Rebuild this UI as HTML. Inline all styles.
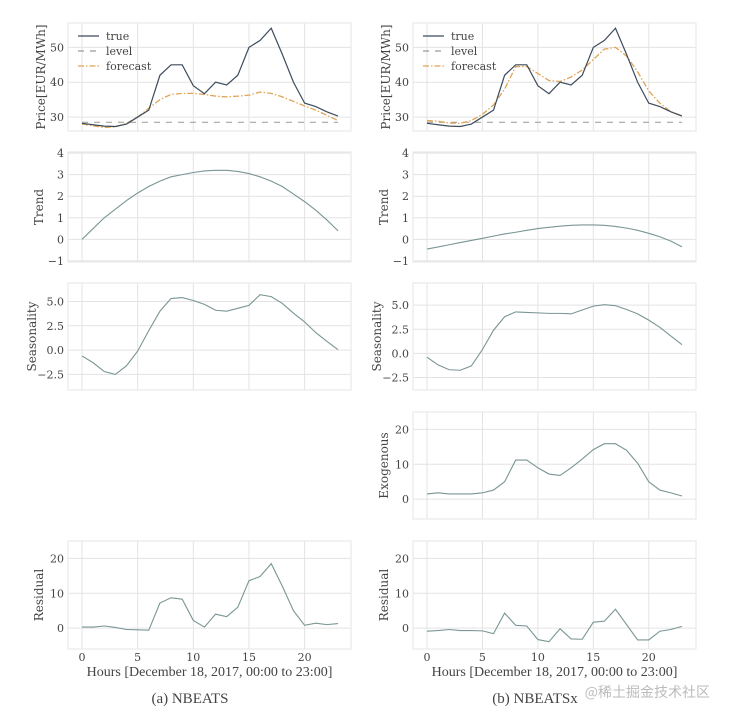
<!DOCTYPE html>
<html><head><meta charset="utf-8"><style>
body{margin:0;background:#fff;}
svg text{font-family:"DejaVu Serif","Liberation Serif",serif;fill:#444;}
</style></head><body>
<svg id="fig" width="729" height="720" viewBox="0 0 729 720" xmlns="http://www.w3.org/2000/svg"></svg>
<script>
const hours=[0,1,2,3,4,5,6,7,8,9,10,11,12,13,14,15,16,17,18,19,20,21,22,23];
const xTicks=[0,5,10,15,20];
const truePrice=[28.2,27.8,27.4,27.3,28,30,32,42,45,45,39,36.7,40,39.2,42,50,52,55.5,48,40,34,33,31.5,30.3];
const levelA=[28.5,28.5,28.5,28.5,28.5,28.5,28.5,28.5,28.5,28.5,28.5,28.5,28.5,28.5,28.5,28.5,28.5,28.5,28.5,28.5,28.5,28.5,28.5,28.5];
const levelB=levelA.slice();
const forecastA=[28,27.5,27,27.2,28.2,30,32.5,35,36.5,36.8,36.8,36.5,36,35.8,36,36.3,37.2,36.8,35.8,34.5,33.2,32,30.5,29];
const forecastB=[29,28.8,28.3,28.2,29,30.8,33.5,38,44.5,44.5,42.5,40.5,40.2,41.5,43.5,46.5,49.5,50,47.5,43,37.5,34,31.5,30.4];
const trendA=[0,0.5,1.0,1.4,1.8,2.15,2.45,2.7,2.9,3.0,3.1,3.17,3.2,3.2,3.15,3.05,2.9,2.7,2.45,2.1,1.75,1.35,0.9,0.4];
const trendB=[-0.45,-0.35,-0.25,-0.15,-0.05,0.05,0.15,0.25,0.33,0.42,0.5,0.56,0.61,0.65,0.67,0.67,0.65,0.6,0.52,0.42,0.28,0.12,-0.08,-0.35];
const seasonA=[-0.6,-1.3,-2.2,-2.5,-1.6,-0.1,2.0,4.0,5.3,5.4,5.1,4.7,4.1,4.0,4.3,4.6,5.7,5.5,4.8,3.8,2.9,1.8,0.9,0.05];
const seasonB=[-0.4,-1.2,-1.7,-1.75,-1.3,0.4,2.4,3.8,4.3,4.25,4.2,4.15,4.15,4.1,4.5,4.9,5.05,4.95,4.55,4.1,3.45,2.7,1.8,0.9];
const exogB=[1.5,1.8,1.5,1.5,1.5,1.8,2.6,5.0,11.2,11.2,9.0,7.2,6.8,9.0,11.5,14.2,15.9,15.9,14.0,10.3,5.0,2.6,1.8,0.9];
const residA=[0.3,0.3,0.6,0.2,-0.4,-0.5,-0.6,7.2,8.7,8.3,2.2,0.3,4.0,3.3,6.0,13.6,14.8,18.5,12,5,0.8,1.4,1.0,1.3];
const residB=[-0.9,-0.7,-0.4,-0.7,-0.7,-0.8,-1.6,4.3,0.8,0.6,-3.3,-3.9,-0.2,-3.1,-3.2,1.7,2.0,5.4,1.0,-3.4,-3.4,-0.9,-0.4,0.5];
const priceTicks=["30","40","50"], trendTicks=["−1","0","1","2","3","4"], seasonTicks=["−2.5","0.0","2.5","5.0"], exogTicks=["0","10","20"], residTicks=["0","10","20"];

const NS="http://www.w3.org/2000/svg";
const svg=document.getElementById('fig');
function el(tag,attrs,parent){const e=document.createElementNS(NS,tag);for(const k in attrs)e.setAttribute(k,attrs[k]);(parent||svg).appendChild(e);return e;}
const cols={a:{l:68,r:351,x0:82,x23:338,lab:45},b:{l:413,r:696,x0:427,x23:682,lab:390}};
function panel(name,col,top,bot,ymin,ymax,tickVals,tickLabels,ylabel,series,showX,labOff){
  const c=cols[col];
  const lab=c.lab-(labOff||0);
  const g=el('g',{});
  
  
  const xs=h=>c.x0+(c.x23-c.x0)*h/23;
  const ys=v=>bot-(v-ymin)/(ymax-ymin)*(bot-top);
  xTicks.forEach(t=>{el('line',{x1:xs(t),x2:xs(t),y1:top,y2:bot,stroke:'#e3e3e3','stroke-width':1},g);});
  tickVals.forEach((t,i)=>{
    el('line',{x1:c.l,x2:c.r,y1:ys(t),y2:ys(t),stroke:'#e3e3e3','stroke-width':1},g);
    const tx=el('text',{x:c.l-4,y:ys(t)+4,'text-anchor':'end','font-size':11},g);tx.textContent=tickLabels[i];
    
    
  });
  el('rect',{x:c.l,y:top,width:c.r-c.l,height:bot-top,fill:'none',stroke:'#e6e6e6'},g);
  const yl=el('text',{x:lab,y:(top+bot)/2,'text-anchor':'middle','font-size':12,transform:`rotate(-90 ${lab} ${(top+bot)/2})`},g);
  yl.textContent=ylabel;
  
  
  series.forEach(s=>{
    const p=el('polyline',{points:hours.map((h,i)=>xs(h)+','+ys(s.d[i])).join(' '),fill:'none',stroke:s.c,'stroke-width':s.w||1.1,'stroke-dasharray':s.dash||'none'},g);
    
    
  });
  if(showX){
    xTicks.forEach(t=>{const tx=el('text',{x:xs(t),y:bot+12,'text-anchor':'middle','font-size':11},g);tx.textContent=t;
      
      });
    const xl=el('text',{x:(c.l+c.r)/2,y:bot+27,'text-anchor':'middle','font-size':14,style:'font-family:"Liberation Serif",serif'},g);
    xl.textContent='Hours [December 18, 2017, 00:00 to 23:00]';
    
    
  }
}
const comp='#7a9595';
['a','b'].forEach(col=>{
  const A=col==='a';
  panel('price-'+col,col,23,131,26,57,[30,40,50],priceTicks,'Price[EUR/MWh]',[
    {n:'level-line',d:A?levelA:levelB,c:'#999',dash:'6 6',w:1},
    {n:'forecast-line',d:A?forecastA:forecastB,c:'#e0a455',dash:'6 2 1.5 2',w:1.3},
    {n:'true-line',d:truePrice,c:'#3d4c5c',w:1.2}],false,0);
  panel('trend-'+col,col,152,262,-1.05,4.05,[-1,0,1,2,3,4],trendTicks,'Trend',[{n:'trend-line',d:A?trendA:trendB,c:comp}],false,2);
  panel('seasonality-'+col,col,283,390,A?-4.1:-3.8,A?6.9:7.3,[-2.5,0,2.5,5],seasonTicks,'Seasonality',[{n:'seasonality-line',d:A?seasonA:seasonB,c:comp}],false,9);
  panel('residual-'+col,col,541,649,-6,25,[0,10,20],residTicks,'Residual',[{n:'residual-line',d:A?residA:residB,c:comp}],true,2);
});
panel('exogenous-b','b',412,519,-5.7,25,[0,10,20],exogTicks,'Exogenous',[{n:'exogenous-line',d:exogB,c:comp}],false,2);

['a','b'].forEach(col=>{
  const c=cols[col];const x=c.l+10;
  const g=el('g',{});
  
  
  const items=[['true','#3d4c5c','none'],['level','#999','6 6'],['forecast','#e0a455','6 2 1.5 2']];
  items.forEach((it,i)=>{
    const y=36+i*15;
    el('line',{x1:x,x2:x+21,y1:y,y2:y,stroke:it[1],'stroke-width':1.3,'stroke-dasharray':it[2]},g);
    const t=el('text',{x:x+28,y:y+4,'font-size':11},g);t.textContent=it[0];
    
    
  });
});
const capA=el('text',{x:190,y:703,'text-anchor':'middle','font-size':15,style:'font-family:"Liberation Serif",serif'});capA.textContent='(a) NBEATS';


const capB=el('text',{x:535,y:703,'text-anchor':'middle','font-size':15,style:'font-family:"Liberation Serif",serif'});capB.textContent='(b) NBEATSx';


const wm=el('text',{x:710,y:697,'text-anchor':'end','font-size':14,style:'font-family:"Noto Sans CJK SC",sans-serif;fill:#bbb'});wm.textContent='@稀土掘金技术社区';


</script>
</body></html>
